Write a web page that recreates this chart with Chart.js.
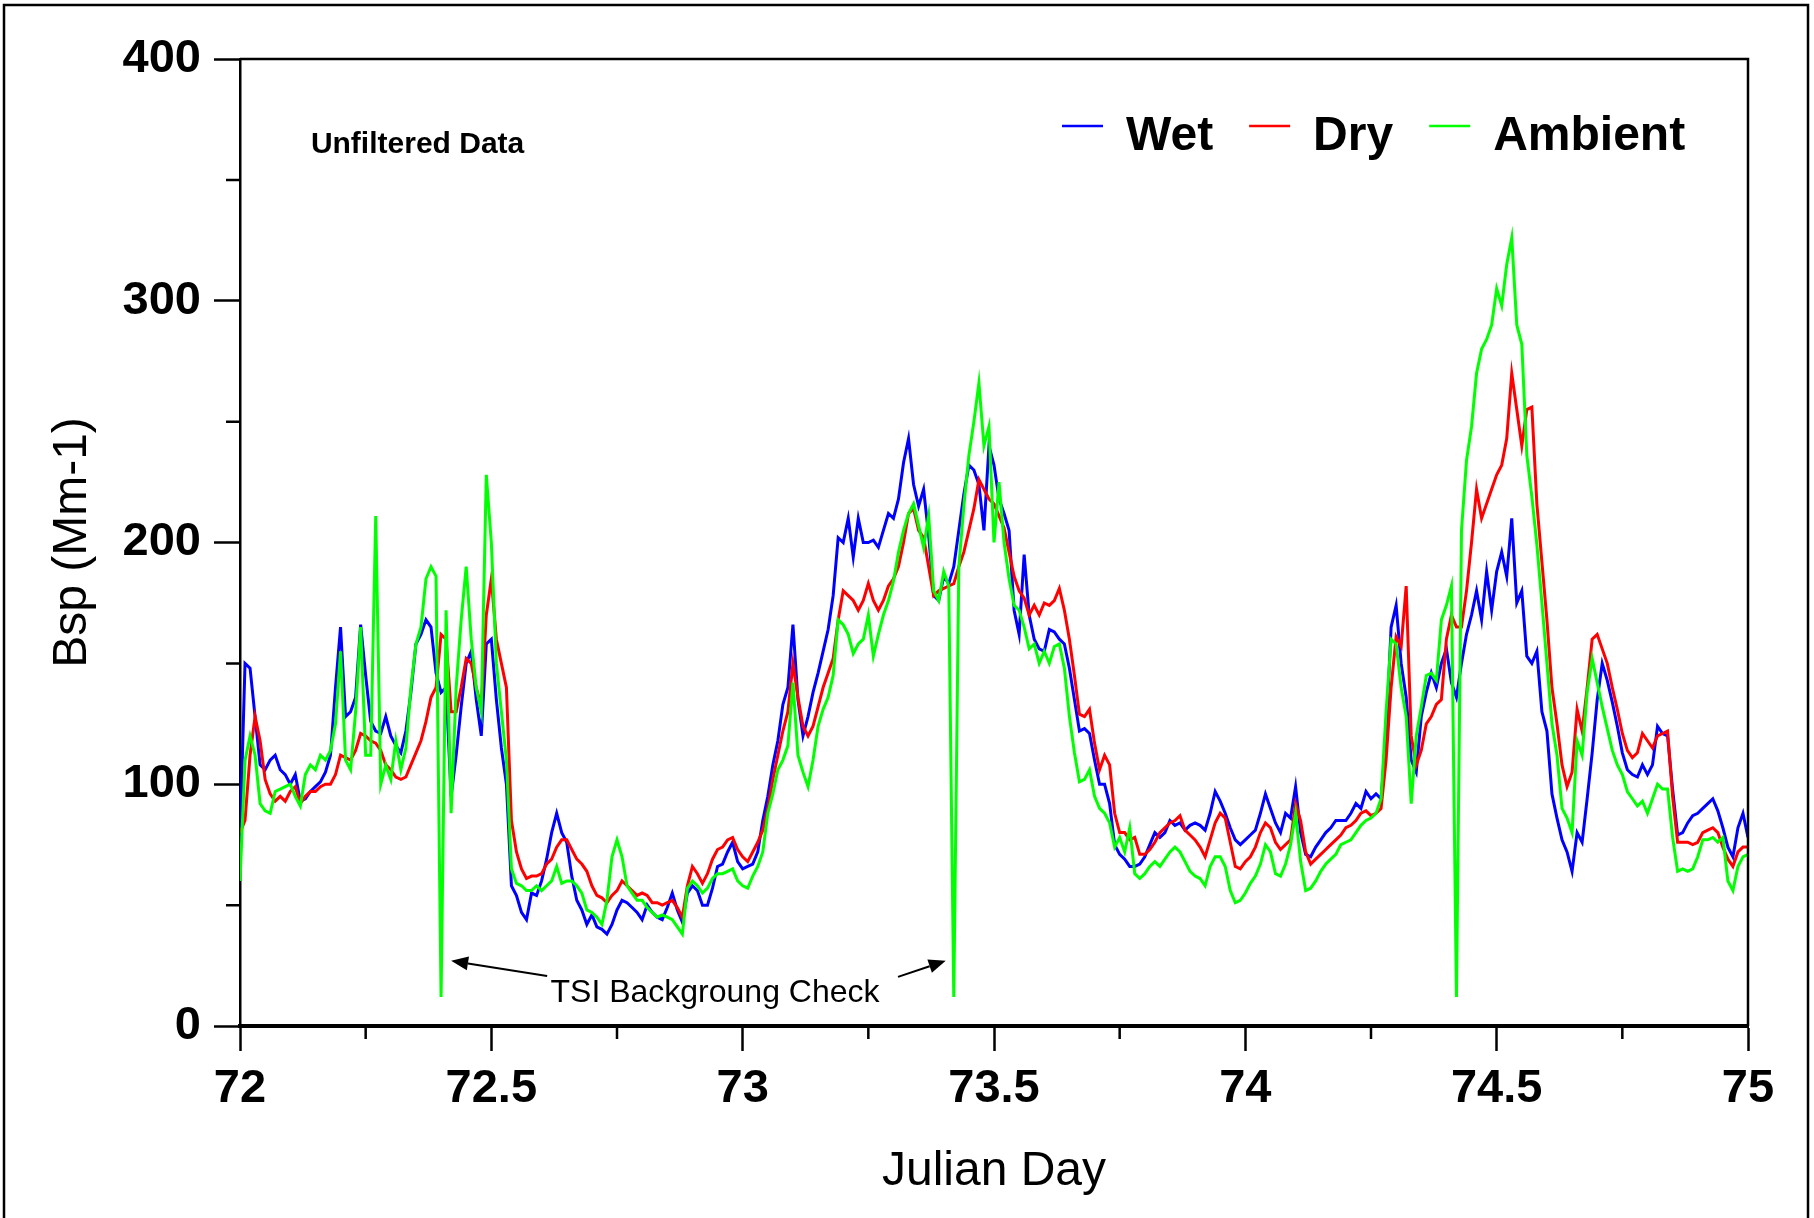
<!DOCTYPE html>
<html><head><meta charset="utf-8">
<script src="https://cdn.jsdelivr.net/npm/chart.js@4"></script>
<style>html,body{margin:0;padding:0;background:#fff;overflow:hidden}canvas{display:block}</style>
</head><body>
<canvas id="c" width="1814" height="1218" style="width:1814px;height:1218px"></canvas>
<script>
// Sampling grid: Julian day 72.00 .. 75.00 every 0.01 day
const dayStart = 72, dayStep = 0.01;

const wet = [77,150,148,128,108,106,110,112,106,104,
100,104,93,94,97,99,101,105,112,140,
165,128,130,136,166,145,126,122,121,128,
120,116,113,122,138,158,162,168,165,146,
138,140,95,112,132,150,155,135,120,158,
160,135,115,100,58,54,47,44,55,54,
60,69,80,88,80,76,62,52,48,42,
46,41,40,38,42,48,52,51,49,47,
44,50,47,45,44,49,55,48,43,55,
58,56,50,50,57,66,67,72,76,68,
65,66,67,72,85,95,108,118,133,140,
166,135,120,128,138,146,155,164,178,202,
200,210,194,210,200,200,201,198,205,212,
210,218,233,243,224,215,222,203,178,176,
186,183,190,205,220,232,230,224,205,240,
232,218,212,205,172,162,195,170,160,156,
155,164,163,160,158,148,135,122,123,121,
110,100,100,92,75,71,69,66,66,67,
70,75,80,78,80,85,83,84,81,83,
84,83,81,88,97,93,88,82,77,75,
77,79,81,88,96,90,84,80,88,86,
99,80,71,70,74,77,80,82,85,85,
85,88,92,90,97,94,96,94,120,165,
174,150,136,110,105,128,138,146,140,150,
156,142,136,150,162,170,180,168,188,172,
188,196,186,210,175,180,153,150,155,130,
122,96,86,77,72,64,80,76,94,113,
135,150,143,134,124,113,106,104,103,108,
104,108,124,121,120,98,79,80,84,87,
88,90,92,94,89,82,74,70,82,88,
78];

const dry = [80,85,112,128,118,102,96,93,95,93,
97,99,92,95,97,97,99,100,100,104,
112,111,110,114,121,120,118,117,114,108,
106,103,102,103,108,113,118,126,136,140,
162,160,130,130,140,152,150,140,132,170,
185,160,150,140,85,72,65,61,62,62,
63,67,69,74,77,77,73,69,67,64,
58,54,53,51,54,56,60,58,56,54,
55,54,51,51,50,51,52,49,45,58,
66,63,59,63,69,73,74,77,78,73,
70,68,72,76,81,90,102,112,122,130,
150,136,124,120,124,132,140,146,152,168,
180,178,176,172,176,183,176,172,176,182,
185,190,200,212,214,205,202,190,178,180,
181,182,183,190,196,205,214,226,222,218,
216,211,206,196,186,180,177,170,174,170,
175,174,176,181,172,160,145,129,128,131,
117,106,112,108,88,80,80,77,78,71,
71,73,76,80,82,84,85,87,81,79,
77,74,70,77,84,88,86,76,66,65,
68,70,74,80,84,82,76,73,75,77,
92,85,72,67,69,71,73,75,77,79,
82,83,85,88,89,87,88,90,110,140,
161,157,182,120,108,114,125,128,133,135,
160,170,165,165,180,200,222,210,216,222,
228,232,243,270,255,240,255,256,216,192,
168,140,125,108,99,105,131,122,140,160,
162,156,150,140,131,121,114,111,113,121,
118,115,120,121,122,95,76,76,76,75,
76,80,81,82,80,74,69,66,72,74,
74];

const ambient = [60,110,120,112,92,89,88,97,98,99,
100,95,91,104,108,106,112,110,114,125,
155,110,106,130,165,112,112,211,100,108,
102,118,106,115,140,158,165,185,190,186,
12,172,88,140,168,190,160,140,130,228,
200,150,130,110,65,59,58,56,56,58,
56,58,60,66,59,60,60,58,55,48,
47,45,42,52,70,77,70,58,55,52,
52,49,47,45,46,45,44,41,38,57,
60,58,55,57,61,63,63,64,65,60,
58,57,62,66,72,88,96,106,110,116,
142,112,105,99,110,124,131,136,145,168,
166,162,154,158,160,170,153,162,170,176,
184,196,205,212,216,207,198,211,180,176,
188,182,12,190,215,236,250,266,240,248,
200,225,200,185,174,172,165,156,158,150,
155,150,157,158,148,128,113,101,102,106,
95,90,88,84,74,78,72,82,63,61,
63,66,68,66,69,72,74,72,68,64,
62,61,58,66,70,70,66,56,51,52,
55,59,62,67,75,72,63,62,67,75,
88,68,56,57,60,64,67,69,71,75,
76,77,80,83,85,86,88,94,130,160,
158,140,128,92,120,132,145,146,143,168,
174,182,12,205,234,248,270,280,284,290,
305,298,315,326,290,282,236,219,199,175,
150,125,112,90,86,80,118,112,138,152,
142,132,123,114,108,104,97,94,91,93,
88,94,100,98,98,78,64,65,64,65,
70,77,77,78,76,78,60,56,66,70,
71];

const days = wet.map((_, i) => +(dayStart + i * dayStep).toFixed(2));
const xTickLabels = ['72', '72.5', '73', '73.5', '74', '74.5', '75'];
const yTickLabels = ['0', '100', '200', '300', '400'];
const seriesNames = ['Wet', 'Dry', 'Ambient'];
const seriesColors = ['#0000ff', '#ff0000', '#00ff00'];
const noteText = 'Unfiltered Data';
const arrowText = 'TSI Backgroung Check';

const FONT = '"Liberation Sans", Arial, Helvetica, sans-serif';

function pts(vals) { return vals.map((v, i) => ({ x: days[i], y: v })); }

const seriesValues = [wet, dry, ambient];
const datasets = seriesNames.map((name, k) => ({
  label: name,
  data: pts(seriesValues[k]),
  borderColor: seriesColors[k],
  backgroundColor: seriesColors[k],
  borderWidth: 3,
  pointRadius: 0,
  tension: 0,
  fill: false,
  order: 3 - k
}));

function isHalf(v) { const k = (v - 72) * 2; return Math.abs(k - Math.round(k)) < 1e-6; }

const decor = {
  id: 'decor',
  afterDraw(chart) {
    const { ctx, chartArea: a, scales: { x, y } } = chart;
    ctx.save();
    ctx.strokeStyle = '#000';
    ctx.fillStyle = '#000';
    // top and right frame of plot box
    ctx.lineWidth = 2.5;
    ctx.beginPath();
    ctx.moveTo(a.left, a.top); ctx.lineTo(a.right, a.top); ctx.lineTo(a.right, a.bottom);
    ctx.stroke();
    // minor ticks
    ctx.lineWidth = 2.5;
    ctx.beginPath();
    for (let d = 72.25; d < 75; d += 0.5) {
      const px = x.getPixelForValue(d);
      ctx.moveTo(px, a.bottom); ctx.lineTo(px, a.bottom + 13);
    }
    for (let v = 50; v < 400; v += 100) {
      const py = y.getPixelForValue(v);
      ctx.moveTo(a.left, py); ctx.lineTo(a.left - 14, py);
    }
    ctx.stroke();
    // outer frame
    ctx.lineWidth = 2.5;
    ctx.strokeRect(4, 5, 1804, 1400);

    // note
    ctx.font = 'bold 30px ' + FONT;
    ctx.textAlign = 'left'; ctx.textBaseline = 'alphabetic';
    ctx.fillText(noteText, x.getPixelForValue(72.141), y.getPixelForValue(361));

    // legend
    ctx.font = 'bold 48px ' + FONT;
    let lx = a.left + 822;
    const ly = a.top + 67;
    chart.data.datasets.forEach((ds) => {
      ctx.strokeStyle = ds.borderColor;
      ctx.lineWidth = 2.5;
      ctx.beginPath(); ctx.moveTo(lx, ly); ctx.lineTo(lx + 41, ly); ctx.stroke();
      ctx.fillStyle = '#000';
      ctx.fillText(ds.label, lx + 64, ly + 24);
      lx += 64 + ctx.measureText(ds.label).width + 36;
    });

    // annotation
    ctx.fillStyle = '#000';
    ctx.font = '32px ' + FONT;
    ctx.textAlign = 'center';
    ctx.fillText(arrowText, x.getPixelForValue(72.945), y.getPixelForValue(10));
    function arrow(d0, v0, d1, v1) {
      const x0 = x.getPixelForValue(d0), y0 = y.getPixelForValue(v0);
      const x1 = x.getPixelForValue(d1), y1 = y.getPixelForValue(v1);
      const ang = Math.atan2(y1 - y0, x1 - x0);
      const L = 17, W = 7;
      ctx.strokeStyle = '#000'; ctx.lineWidth = 2;
      ctx.beginPath(); ctx.moveTo(x0, y0);
      ctx.lineTo(x1 - Math.cos(ang) * L, y1 - Math.sin(ang) * L); ctx.stroke();
      ctx.beginPath();
      ctx.moveTo(x1, y1);
      ctx.lineTo(x1 - Math.cos(ang) * L - Math.sin(ang) * W, y1 - Math.sin(ang) * L + Math.cos(ang) * W);
      ctx.lineTo(x1 - Math.cos(ang) * L + Math.sin(ang) * W, y1 - Math.sin(ang) * L - Math.cos(ang) * W);
      ctx.closePath(); ctx.fill();
    }
    arrow(72.611, 20.7, 72.420, 27);
    arrow(73.309, 20.3, 73.404, 27);
    ctx.restore();
  }
};

new Chart(document.getElementById('c'), {
  type: 'line',
  data: { datasets },
  options: {
    responsive: false,
    devicePixelRatio: 1,
    animation: false,
    parsing: true,
    layout: { padding: { top: 59, right: 66, left: 0, bottom: 0 } },
    plugins: { legend: { display: false }, tooltip: { enabled: false } },
    scales: {
      x: {
        type: 'linear', min: 72, max: 75,
        ticks: {
          stepSize: 0.25, autoSkip: false, maxRotation: 0, padding: 10,
          color: '#000', font: { family: FONT, size: 47, weight: 'bold' },
          callback: (v) => isHalf(v) ? xTickLabels[Math.round((v - 72) * 2)] : ''
        },
        grid: {
          drawOnChartArea: false, drawTicks: true, tickLength: 25, tickWidth: 2.5,
          tickColor: (c) => (c.tick && isHalf(c.tick.value)) ? '#000' : 'rgba(0,0,0,0)'
        },
        border: { display: true, color: '#000', width: 4 },
        title: { display: true, text: 'Julian Day', color: '#000',
          font: { family: FONT, size: 48, weight: 'normal' }, padding: { top: 0, bottom: 17 } },
        afterFit: (s) => { s.height = 192; s.paddingLeft = 0; s.paddingRight = 0; }
      },
      y: {
        type: 'linear', min: 0, max: 400,
        ticks: {
          stepSize: 50, autoSkip: false, padding: 13,
          color: '#000', font: { family: FONT, size: 47, weight: 'bold' },
          callback: (v) => (v % 100 === 0) ? yTickLabels[v / 100] : ''
        },
        grid: {
          drawOnChartArea: false, drawTicks: true, tickLength: 26, tickWidth: 2.5,
          tickColor: (c) => (c.tick && c.tick.value % 100 === 0) ? '#000' : 'rgba(0,0,0,0)'
        },
        border: { display: true, color: '#000', width: 2.5 },
        title: { display: true, text: 'Bsp (Mm-1)', color: '#000',
          font: { family: FONT, size: 48, weight: 'normal' }, padding: { top: 44, bottom: 0 } },
        afterFit: (s) => { s.width = 240; s.paddingTop = 0; s.paddingBottom = 0; }
      }
    }
  },
  plugins: [decor]
});
</script>
</body></html>
